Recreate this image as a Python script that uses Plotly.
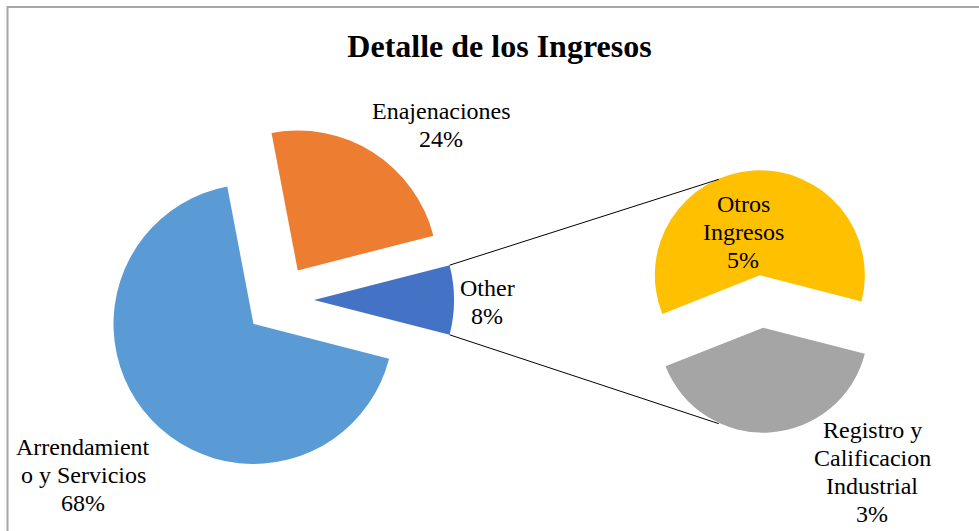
import math
import plotly.graph_objects as go

W, H = 979, 531

# data
main_labels = ["Arrendamiento y Servicios", "Enajenaciones"]
main_values = [68.0, 24.0]
other_labels = ["Otros Ingresos", "Registro y Calificacion Industrial"]
other_values = [4.8, 3.2]
other_name = "Other"

# how Excel wrapped the data labels
wrapped = {
    "Arrendamiento y Servicios": ["Arrendamient", "o y Servicios"],
    "Enajenaciones": ["Enajenaciones"],
    "Other": ["Other"],
    "Otros Ingresos": ["Otros", "Ingresos"],
    "Registro y Calificacion Industrial": ["Registro y", "Calificacion", "Industrial"],
}
label_pos = {
    "Arrendamiento y Servicios": (83, 475),
    "Enajenaciones": (441, 125),
    "Other": (487, 302),
    "Otros Ingresos": (743, 232),
    "Registro y Calificacion Industrial": (872, 472),
}

COLORS_MAIN = ["#5B9BD5", "#ED7D31", "#4472C4"]
COLORS_SEC = ["#FFC000", "#A5A5A5"]
FONT = "Liberation Serif, Times New Roman, serif"

PULL = 0.25
MAIN_C, MAIN_R = (279, 300), 140
SEC_C, SEC_R = (761.5, 301.5), 105


def domain(center, r):
    half = r * (1 + PULL)
    cx, cy = center
    return dict(x=[(cx - half) / W, (cx + half) / W],
                y=[1 - (cy + half) / H, 1 - (cy - half) / H])


total = sum(main_values) + sum(other_values)
pie_labels = main_labels + [other_name]
pie_values = main_values + [sum(other_values)]
other_frac = pie_values[-1] / total
start = 90 + other_frac * 180  # clockwise angle from 12 o'clock

fig = go.Figure()
fig.add_trace(go.Pie(
    labels=pie_labels, values=pie_values, sort=False,
    direction="clockwise", rotation=start,
    pull=PULL, textinfo="none", hoverinfo="label+percent",
    marker=dict(colors=COLORS_MAIN, line=dict(width=0)),
    domain=domain(MAIN_C, MAIN_R),
))
sec_frac = other_values[0] / sum(other_values)
fig.add_trace(go.Pie(
    labels=other_labels, values=other_values, sort=False,
    direction="clockwise", rotation=start + (1 - sec_frac) * 360,
    pull=PULL, textinfo="none", hoverinfo="label+percent",
    marker=dict(colors=COLORS_SEC, line=dict(width=0)),
    domain=domain(SEC_C, SEC_R),
))

# data labels
LH = 27.7
annotations = []
for name, val in zip(pie_labels + other_labels, pie_values + other_values):
    lines = wrapped[name] + [f"{round(val / total * 100)}%"]
    cx, cy = label_pos[name]
    n = len(lines)
    for i, line in enumerate(lines):
        y = cy + (i - (n - 1) / 2) * LH
        annotations.append(dict(
            x=cx / W, y=1 - y / H, xref="paper", yref="paper",
            text=line, showarrow=False, xanchor="center", yanchor="middle",
            font=dict(family=FONT, size=24, color="#000000"),
        ))

# connector lines from the Other slice to the secondary pie
half = other_frac * math.pi
ox = MAIN_C[0] + PULL * MAIN_R
shapes = []
for sgn in (1, -1):
    x0 = ox + MAIN_R * math.cos(half)
    y0 = MAIN_C[1] - sgn * MAIN_R * math.sin(half)
    a = math.radians(114)
    x1 = SEC_C[0] + SEC_R * math.cos(a)
    y1 = SEC_C[1] - sgn * (PULL * SEC_R + SEC_R * math.sin(a))
    shapes.append(dict(type="line", xref="paper", yref="paper",
                       x0=x0 / W, y0=1 - y0 / H, x1=x1 / W, y1=1 - y1 / H,
                       line=dict(color="#000000", width=1)))

# chart area border
shapes.append(dict(type="rect", xref="paper", yref="paper",
                   x0=7.5 / W, y0=-0.05, x1=1.05, y1=1 - 7 / H,
                   line=dict(color="#A6A6A6", width=2), layer="below"))

fig.update_layout(
    width=W, height=H, margin=dict(l=0, r=0, t=0, b=0),
    paper_bgcolor="white", plot_bgcolor="white", showlegend=False,
    title=dict(text="<b>Detalle de los Ingresos</b>", x=499.5 / W, y=1 - 46 / H,
               xanchor="center", yanchor="middle",
               font=dict(family=FONT, size=32, color="#000000")),
    annotations=annotations, shapes=shapes,
)

fig.write_html("out.html", config={"displayModeBar": False},
               post_script="document.body.style.margin='0';")
